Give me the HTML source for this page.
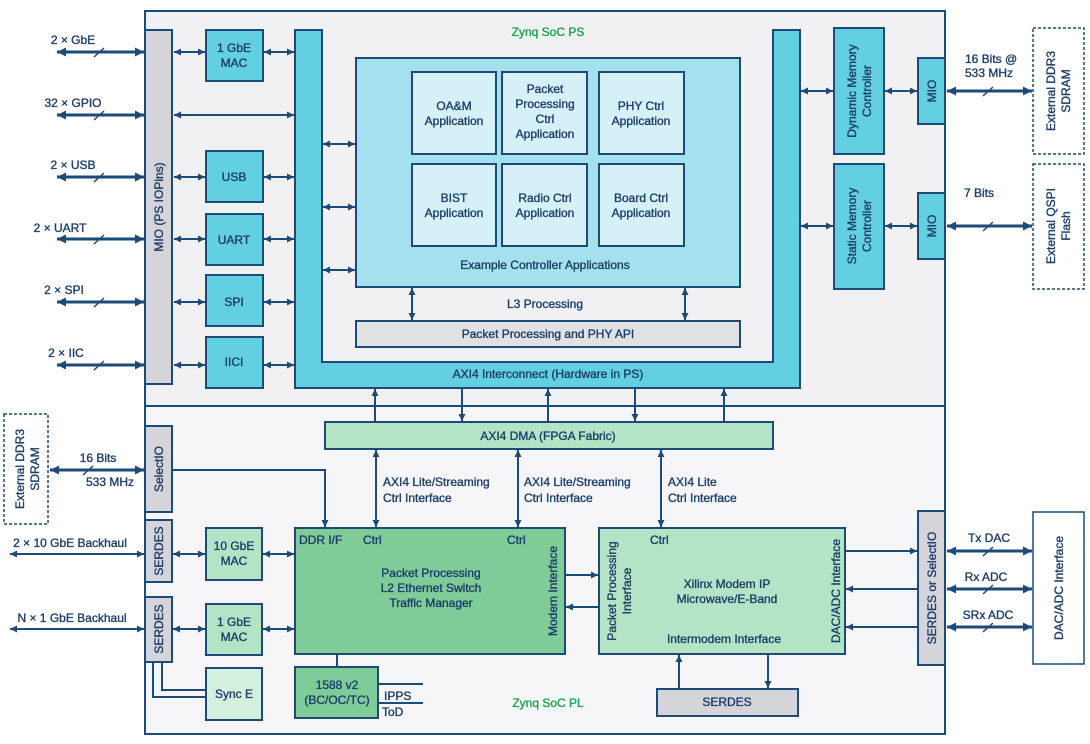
<!DOCTYPE html>
<html><head><meta charset="utf-8"><style>
html,body{margin:0;padding:0;background:#fff}
svg{display:block}
text{font-family:"Liberation Sans",Arial,sans-serif;font-size:12px;fill:#1c3d68;stroke:#1c3d68;stroke-width:0.35}
</style></head><body>
<svg width="1090" height="744" viewBox="0 0 1090 744" xmlns="http://www.w3.org/2000/svg">
<defs>
<marker id="a" viewBox="0 0 10 10" refX="10" refY="5" markerWidth="11" markerHeight="7" markerUnits="userSpaceOnUse" orient="auto-start-reverse"><path d="M0,0L10,5L0,10z" fill="#1c4a7a"/></marker>
<marker id="b" viewBox="0 0 10 10" refX="10" refY="5" markerWidth="15" markerHeight="9" markerUnits="userSpaceOnUse" orient="auto-start-reverse"><path d="M0,0L10,5L0,10z" fill="#1c4a7a"/></marker>
</defs>
<g stroke="#1e4a78" stroke-width="2">
<rect x="145" y="11" width="800" height="395" fill="#f1f1f4"/>
<rect x="145" y="406" width="800" height="328" fill="#f6f6f8"/>
<rect x="145" y="30" width="27" height="354" fill="#d4d4d9"/>
<rect x="206" y="30" width="57" height="51" fill="#62d0e1"/>
<rect x="206" y="151" width="57" height="51" fill="#62d0e1"/>
<rect x="206" y="214" width="57" height="51" fill="#62d0e1"/>
<rect x="206" y="275" width="57" height="51" fill="#62d0e1"/>
<rect x="206" y="337" width="57" height="51" fill="#62d0e1"/>
<path d="M295,30H322V362H773V30H800V388H295Z" fill="#62d0e1"/>
<rect x="356" y="58" width="384" height="229" fill="#a2e1ed"/>
<g fill="#d5f1f7">
<rect x="412" y="72" width="84" height="82"/><rect x="502" y="72" width="85" height="82"/><rect x="599" y="72" width="85" height="82"/>
<rect x="412" y="164" width="84" height="82"/><rect x="502" y="164" width="85" height="82"/><rect x="599" y="164" width="85" height="82"/>
</g>
<rect x="356" y="321" width="384" height="26" fill="#e1e1e4"/>
<rect x="834" y="28" width="50" height="126" fill="#62d0e1"/>
<rect x="834" y="164" width="50" height="125" fill="#62d0e1"/>
<rect x="918" y="58" width="27" height="66" fill="#62d0e1"/>
<rect x="918" y="193" width="27" height="66" fill="#62d0e1"/>
<rect x="1033" y="28" width="51" height="126" fill="#fff" stroke-dasharray="3,2" stroke-width="1.5"/>
<rect x="1033" y="164" width="51" height="125" fill="#fff" stroke-dasharray="3,2" stroke-width="1.5"/>
<rect x="4" y="414" width="44" height="110" fill="#fff" stroke-dasharray="3,2" stroke-width="1.5"/>
<rect x="325" y="422" width="448" height="27" fill="#b3e4c5"/>
<rect x="145" y="426" width="27" height="86" fill="#d4d4d9"/>
<rect x="145" y="520" width="27" height="62" fill="#d4d4d9"/>
<rect x="145" y="597" width="27" height="65" fill="#d4d4d9"/>
<rect x="206" y="528" width="56" height="52" fill="#b3e4c5"/>
<rect x="206" y="604" width="56" height="51" fill="#b3e4c5"/>
<rect x="206" y="668" width="56" height="52" fill="#d3f0de"/>
<rect x="295" y="528" width="270" height="126" fill="#7fcc99"/>
<rect x="295" y="667" width="83" height="51" fill="#7fcc99"/>
<rect x="599" y="528" width="246" height="126" fill="#b3e4c5"/>
<rect x="657" y="689" width="141" height="27" fill="#d4d4d9"/>
<rect x="918" y="511" width="27" height="154" fill="#d4d4d9"/>
<rect x="1033" y="512" width="51" height="152" fill="#fff" stroke-width="1.5"/>
</g>
<g stroke="#1e4a78" stroke-width="2" fill="none">
<g stroke-width="3" marker-start="url(#b)" marker-end="url(#b)">
<line x1="57" y1="52" x2="144" y2="52"/><line x1="57" y1="115" x2="144" y2="115"/><line x1="57" y1="177" x2="144" y2="177"/>
<line x1="57" y1="239" x2="144" y2="239"/><line x1="57" y1="302" x2="144" y2="302"/><line x1="57" y1="365" x2="144" y2="365"/>
<line x1="947" y1="91" x2="1032" y2="91"/><line x1="947" y1="226" x2="1032" y2="226"/>
<line x1="50" y1="470" x2="144" y2="470"/>
<line x1="947" y1="551" x2="1032" y2="551"/><line x1="947" y1="589" x2="1032" y2="589"/><line x1="947" y1="627" x2="1032" y2="627"/>
</g>
<g stroke-width="1.5">
<path d="M94,57l10,-9M94,120l10,-9M94,182l10,-9M94,244l10,-9M94,307l10,-9M94,370l10,-9M983,96l10,-9M983,231l10,-9M83,475l10,-9M983,556l10,-9M983,594l10,-9M983,632l10,-9"/>
</g>
<g marker-start="url(#a)" marker-end="url(#a)">
<line x1="174" y1="52" x2="205" y2="52"/><line x1="264" y1="52" x2="294" y2="52"/>
<line x1="174" y1="115" x2="294" y2="115"/>
<line x1="174" y1="177" x2="205" y2="177"/><line x1="264" y1="177" x2="294" y2="177"/>
<line x1="174" y1="239" x2="205" y2="239"/><line x1="264" y1="239" x2="294" y2="239"/>
<line x1="174" y1="302" x2="205" y2="302"/><line x1="264" y1="302" x2="294" y2="302"/>
<line x1="174" y1="365" x2="205" y2="365"/><line x1="264" y1="365" x2="294" y2="365"/>
<line x1="323" y1="144" x2="355" y2="144"/><line x1="323" y1="207" x2="355" y2="207"/><line x1="323" y1="270" x2="355" y2="270"/>
<line x1="412" y1="288" x2="412" y2="320"/><line x1="685" y1="288" x2="685" y2="320"/>
<line x1="801" y1="91" x2="833" y2="91"/><line x1="885" y1="91" x2="917" y2="91"/>
<line x1="801" y1="226" x2="833" y2="226"/><line x1="885" y1="226" x2="917" y2="226"/>
<line x1="376" y1="450" x2="376" y2="527"/><line x1="518" y1="450" x2="518" y2="527"/><line x1="661" y1="450" x2="661" y2="527"/>
<line x1="173" y1="554" x2="205" y2="554"/><line x1="263" y1="554" x2="294" y2="554"/>
<line x1="173" y1="629" x2="205" y2="629"/><line x1="263" y1="629" x2="294" y2="629"/>
<line x1="10" y1="554" x2="144" y2="554"/><line x1="10" y1="629" x2="144" y2="629"/>
</g>
<g marker-end="url(#a)">
<line x1="375" y1="421" x2="375" y2="389"/><line x1="462" y1="389" x2="462" y2="421"/><line x1="548" y1="421" x2="548" y2="389"/>
<line x1="635" y1="389" x2="635" y2="421"/><line x1="724" y1="421" x2="724" y2="389"/>
<path d="M172,470H325V527"/>
<line x1="566" y1="575" x2="598" y2="575"/><line x1="598" y1="607" x2="566" y2="607"/>
<line x1="846" y1="551" x2="917" y2="551"/><line x1="917" y1="589" x2="846" y2="589"/><line x1="917" y1="627" x2="846" y2="627"/>
<line x1="679" y1="689" x2="679" y2="655"/><line x1="768" y1="655" x2="768" y2="688"/>
</g>
<path d="M337,654V667M378,684H423M378,703H423M153,662V697H206M162,662V690H206"/>
</g>
<g text-anchor="middle">
<text x="548" y="36" style="fill:#1aa34a;stroke:#1aa34a">Zynq SoC PS</text>
<text x="548" y="707" style="fill:#1aa34a;stroke:#1aa34a">Zynq SoC PL</text>
<text x="234" y="52">1 GbE</text><text x="234" y="67">MAC</text>
<text x="234" y="181">USB</text><text x="234" y="244">UART</text><text x="234" y="306">SPI</text><text x="234" y="366">IICI</text>
<text x="454" y="110">OA&amp;M</text><text x="454" y="125">Application</text>
<text x="545" y="93">Packet</text><text x="545" y="108">Processing</text><text x="545" y="123">Ctrl</text><text x="545" y="138">Application</text>
<text x="641" y="110">PHY Ctrl</text><text x="641" y="125">Application</text>
<text x="454" y="202">BIST</text><text x="454" y="217">Application</text>
<text x="545" y="202">Radio Ctrl</text><text x="545" y="217">Application</text>
<text x="641" y="202">Board Ctrl</text><text x="641" y="217">Application</text>
<text x="545" y="269">Example Controller Applications</text>
<text x="545" y="308">L3 Processing</text>
<text x="548" y="338">Packet Processing and PHY API</text>
<text x="548" y="378">AXI4 Interconnect (Hardware in PS)</text>
<text x="548" y="440">AXI4 DMA (FPGA Fabric)</text>
<text x="234" y="550">10 GbE</text><text x="234" y="565">MAC</text>
<text x="234" y="626">1 GbE</text><text x="234" y="641">MAC</text>
<text x="234" y="698">Sync E</text>
<text x="337" y="689">1588 v2</text><text x="337" y="704">(BC/OC/TC)</text>
<text x="431" y="577">Packet Processing</text><text x="431" y="592">L2 Ethernet Switch</text><text x="431" y="607">Traffic Manager</text>
<text x="727" y="588">Xilinx Modem IP</text><text x="727" y="603">Microwave/E-Band</text>
<text x="724" y="643">Intermodem Interface</text>
<text x="727" y="706">SERDES</text>
<text x="73" y="44">2 × GbE</text><text x="73" y="107">32 × GPIO</text><text x="73" y="169">2 × USB</text>
<text x="60" y="232">2 × UART</text><text x="64" y="294">2 × SPI</text><text x="66" y="357">2 × IIC</text>
<text x="98" y="462">16 Bits</text><text x="110" y="486">533 MHz</text>
<text x="70" y="547">2 × 10 GbE Backhaul</text><text x="72" y="622">N × 1 GbE Backhaul</text>
<text x="989" y="542">Tx DAC</text><text x="986" y="581">Rx ADC</text><text x="988" y="619">SRx ADC</text>
</g>
<text x="965" y="63">16 Bits @</text><text x="965" y="77">533 MHz</text>
<text x="964" y="197">7 Bits</text>
<text x="299" y="544">DDR I/F</text><text x="363" y="544">Ctrl</text><text x="507" y="544">Ctrl</text><text x="650" y="544">Ctrl</text>
<text x="383" y="486">AXI4 Lite/Streaming</text><text x="383" y="502">Ctrl Interface</text>
<text x="524" y="486">AXI4 Lite/Streaming</text><text x="524" y="502">Ctrl Interface</text>
<text x="668" y="486">AXI4 Lite</text><text x="668" y="502">Ctrl Interface</text>
<text x="384" y="700">IPPS</text><text x="382" y="716">ToD</text>
<g text-anchor="middle">
<text transform="translate(163,207) rotate(-90)">MIO (PS IOPins)</text>
<text transform="translate(163,469) rotate(-90)">SelectIO</text>
<text transform="translate(163,551) rotate(-90)">SERDES</text>
<text transform="translate(163,629) rotate(-90)">SERDES</text>
<text transform="translate(856,91) rotate(-90)">Dynamic Memory</text>
<text transform="translate(871,91) rotate(-90)">Controller</text>
<text transform="translate(856,226) rotate(-90)">Static Memory</text>
<text transform="translate(871,226) rotate(-90)">Controller</text>
<text transform="translate(936,91) rotate(-90)">MIO</text>
<text transform="translate(936,226) rotate(-90)">MIO</text>
<text transform="translate(1055,91) rotate(-90)">External DDR3</text>
<text transform="translate(1070,91) rotate(-90)">SDRAM</text>
<text transform="translate(1055,226) rotate(-90)">External QSPI</text>
<text transform="translate(1070,226) rotate(-90)">Flash</text>
<text transform="translate(24,469) rotate(-90)">External DDR3</text>
<text transform="translate(39,469) rotate(-90)">SDRAM</text>
<text transform="translate(557,591) rotate(-90)">Modem Interface</text>
<text transform="translate(616,591) rotate(-90)">Packet Processing</text>
<text transform="translate(631,591) rotate(-90)">Interface</text>
<text transform="translate(840,591) rotate(-90)">DAC/ADC Interface</text>
<text transform="translate(936,588) rotate(-90)">SERDES or SelectIO</text>
<text transform="translate(1063,588) rotate(-90)">DAC/ADC Interface</text>
</g>
</svg>
</body></html>
